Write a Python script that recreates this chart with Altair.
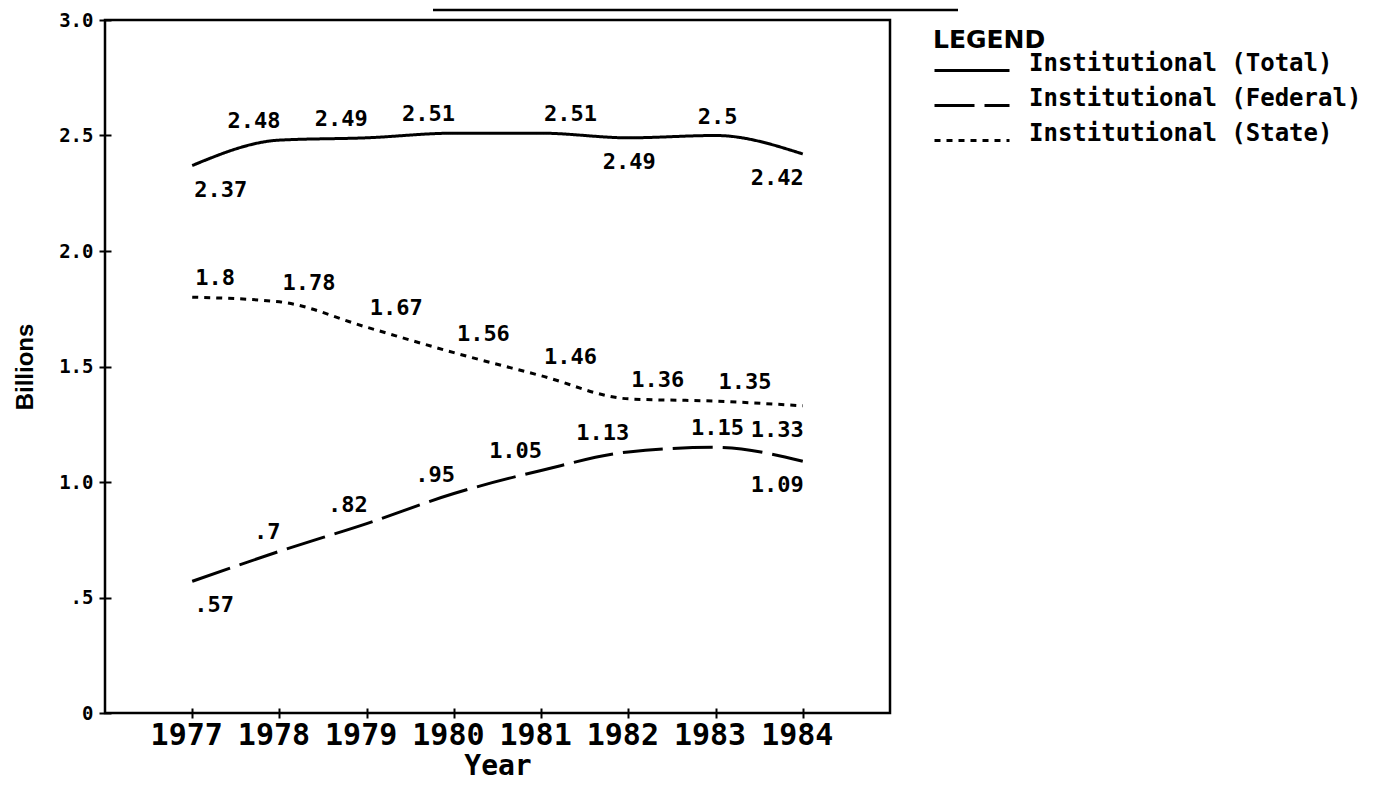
import altair as alt
import pandas as pd

# ---- data ----
YEARS = [1977, 1978, 1979, 1980, 1981, 1982, 1983, 1984]
TOTAL = [2.37, 2.48, 2.49, 2.51, 2.51, 2.49, 2.50, 2.42]
FEDERAL = [0.57, 0.70, 0.82, 0.95, 1.05, 1.13, 1.15, 1.09]
STATE = [1.80, 1.78, 1.67, 1.56, 1.46, 1.36, 1.35, 1.33]
SERIES = ["Institutional (Total)", "Institutional (Federal)", "Institutional (State)"]
Y_TICKS = [0, 0.5, 1.0, 1.5, 2.0, 2.5, 3.0]

# where each value label sits relative to its point
TOTAL_PLACE = ["below-right", "above-left", "above-left", "above-left",
               "above-right", "below-center", "above-center", "below-left"]
FEDERAL_PLACE = ["below-right", "above-left", "above-left", "above-left",
                 "above-left", "above-left", "above-center", "below-left"]
STATE_PLACE = ["above-right", "above-right", "above-right", "above-right",
               "above-right", "above-right", "above-right", "below-left"]


def fmt(v):
    s = f"{v:g}"
    return s[1:] if s.startswith("0.") else s


rows = []
for name, vals, places in zip(SERIES, [TOTAL, FEDERAL, STATE],
                              [TOTAL_PLACE, FEDERAL_PLACE, STATE_PLACE]):
    for yr, v, p in zip(YEARS, vals, places):
        rows.append({"year": yr, "value": v, "series": name,
                     "label": fmt(v), "place": p})
df = pd.DataFrame(rows)

MONO = "DejaVu Sans Mono"
NARROW = "Liberation Sans Narrow, Liberation Sans, sans-serif"

x_enc = alt.X(
    "year:Q",
    scale=alt.Scale(domain=[1976, 1985], nice=False, zero=False),
    axis=alt.Axis(
        values=YEARS, format="d", grid=False, domain=False,
        tickSize=10, tickWidth=2, tickColor="black", offset=-5,
        labelFont=MONO, labelFontSize=30, labelFontWeight="bold",
        labelColor="black", labelPadding=2, labelOffset=-6, labelFlush=False,
        labelOverlap=False,
        title="Year", titleFont=MONO, titleFontSize=28, titleFontWeight="bold",
        titleColor="black", titlePadding=2,
    ),
)
y_enc = alt.Y(
    "value:Q",
    scale=alt.Scale(domain=[0, 3], nice=False),
    axis=alt.Axis(
        values=Y_TICKS, grid=False, domain=False,
        labelExpr="datum.value == 0 ? '0' : (datum.value < 1 ? '.5' : format(datum.value, '.1f'))",
        tickSize=12, tickWidth=2, tickColor="black", offset=-6,
        labelFont=MONO, labelFontSize=19, labelFontWeight="bold",
        labelColor="black", labelPadding=6, labelFlush=False,
        title="Billions", titleFont=NARROW, titleFontSize=24,
        titleFontWeight="bold", titleColor="black", titlePadding=21,
    ),
)

lines = alt.Chart(df).mark_line(
    interpolate="monotone", strokeWidth=3, color="black"
).encode(
    x=x_enc,
    y=y_enc,
    strokeDash=alt.StrokeDash(
        "series:N",
        sort=SERIES,
        scale=alt.Scale(domain=SERIES, range=[[1, 0], [40, 10], [6, 6]]),
        legend=alt.Legend(
            title="LEGEND", orient="none", legendX=828, legendY=8,
            titleFont="DejaVu Sans", titleFontSize=25, titleFontWeight="bold",
            titleColor="black", titlePadding=1, titleAnchor="start",
            labelFont=MONO, labelFontSize=24, labelFontWeight="bold",
            labelColor="black", labelOffset=63, labelLimit=500,
            labelBaseline="alphabetic",
            symbolType="M -1,0 L 4,0", symbolSize=900, symbolStrokeWidth=3,
            symbolStrokeColor="black", symbolFillColor="transparent",
            rowPadding=9, padding=0,
        ),
    ),
)

PLACE_STYLE = {
    "above-left": dict(align="right", dx=1, dy=-19),
    "above-right": dict(align="left", dx=3, dy=-19),
    "above-center": dict(align="center", dx=2, dy=-19),
    "below-left": dict(align="right", dx=1, dy=24),
    "below-right": dict(align="left", dx=2, dy=24),
    "below-center": dict(align="center", dx=1, dy=24),
}

texts = []
for place, st in PLACE_STYLE.items():
    texts.append(
        alt.Chart(df).transform_filter(alt.datum.place == place).mark_text(
            baseline="middle", font=MONO, fontSize=22, fontWeight="bold",
            color="black", **st
        ).encode(x=x_enc, y=y_enc, text="label:N")
    )

top_rule = alt.Chart(alt.Data(values=[{"k": 1}])).mark_rule(
    color="black", strokeWidth=2.5
).encode(x=alt.value(328), x2=alt.value(853), y=alt.value(-10))

chart = alt.layer(lines, *texts, top_rule).properties(
    width=785, height=693,
    background="white",
    autosize=alt.AutoSizeParams(type="none"),
    padding={"left": 97, "top": 12, "right": 484, "bottom": 68},
).configure_view(
    stroke="black", strokeWidth=2.5, fill="white"
)

chart.save("out.html", embed_options={"renderer": "svg", "actions": False})
